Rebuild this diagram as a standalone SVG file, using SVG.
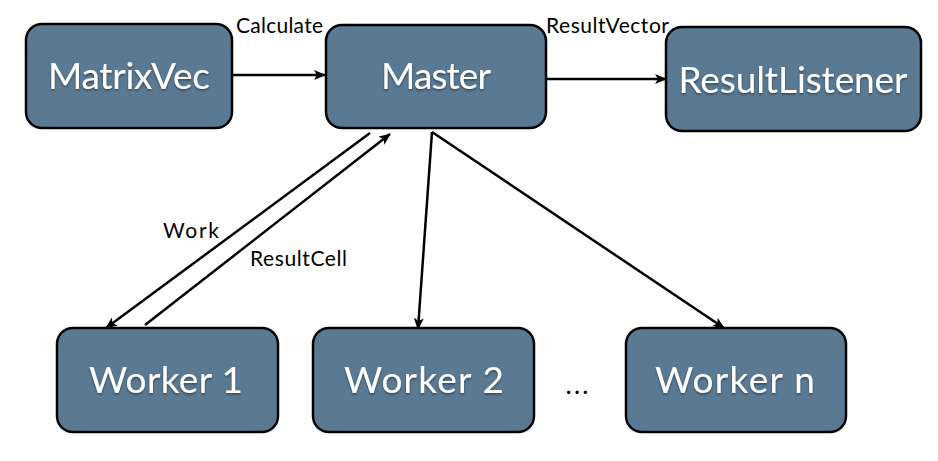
<svg xmlns="http://www.w3.org/2000/svg" width="938" height="461" viewBox="0 0 938 461">
  <style>
    .box { fill: #5a7a94; stroke: #000; stroke-width: 2.5; }
    .lbl { font-family: Lato, "Liberation Sans", sans-serif; font-size: 37px; fill: #fff; text-anchor: middle; filter: url(#sh); }
    .cl { font-family: Lato, "Liberation Sans", sans-serif; font-size: 21px; fill: #000; }
    .edge { stroke: #000; stroke-width: 2.5; fill: none; marker-end: url(#ah); }
  </style>
  <defs>
    <marker id="ah" viewBox="0 0 12 10" refX="11" refY="5" markerWidth="12" markerHeight="10" markerUnits="userSpaceOnUse" orient="auto">
      <path d="M0,0 L12,5 L0,10 L3,5 Z" fill="#000"/>
    </marker>
    <filter id="sh" x="-10%" y="-20%" width="120%" height="150%">
      <feDropShadow dx="0" dy="1.5" stdDeviation="1" flood-color="#000" flood-opacity="0.45"/>
    </filter>
  </defs>
  <rect width="938" height="461" fill="#fff"/>
  <g id="connectors">
    <line class="edge" x1="232" y1="75" x2="325" y2="75"/>
    <line class="edge" x1="546" y1="79" x2="666" y2="79"/>
    <line class="edge" x1="370" y1="133" x2="106" y2="328"/>
    <line class="edge" x1="145" y1="325" x2="390" y2="134"/>
    <line class="edge" x1="432" y1="132" x2="418" y2="329"/>
    <line class="edge" x1="432" y1="132" x2="724" y2="328"/>
    <text class="cl" x="236" y="33" textLength="87">Calculate</text>
    <text class="cl" x="546" y="33" textLength="123">ResultVector</text>
    <text class="cl" x="163" y="238" textLength="56">Work</text>
    <text class="cl" x="250" y="266" textLength="97">ResultCell</text>
  </g>
  <g id="matrixvec">
    <rect class="box" x="26" y="24" width="206" height="104" rx="16"/>
    <text class="lbl" x="129" y="89" textLength="162">MatrixVec</text>
  </g>
  <g id="master">
    <rect class="box" x="326" y="25" width="220" height="103" rx="16"/>
    <text class="lbl" x="436" y="89" textLength="110">Master</text>
  </g>
  <g id="resultlistener">
    <rect class="box" x="666" y="27" width="255" height="104" rx="16"/>
    <text class="lbl" x="793" y="93" textLength="229">ResultListener</text>
  </g>
  <g id="worker1">
    <rect class="box" x="57" y="328" width="221" height="104" rx="16"/>
    <text class="lbl" x="166" y="393" textLength="154">Worker 1</text>
  </g>
  <g id="worker2">
    <rect class="box" x="313" y="328" width="221" height="104" rx="16"/>
    <text class="lbl" x="424" y="393" textLength="160">Worker 2</text>
  </g>
  <g id="dots">
    <text class="cl" x="577" y="394" text-anchor="middle" textLength="23" style="font-size:26px">...</text>
  </g>
  <g id="workern">
    <rect class="box" x="626" y="328" width="220" height="104" rx="16"/>
    <text class="lbl" x="735" y="393" textLength="160">Worker n</text>
  </g>
</svg>
